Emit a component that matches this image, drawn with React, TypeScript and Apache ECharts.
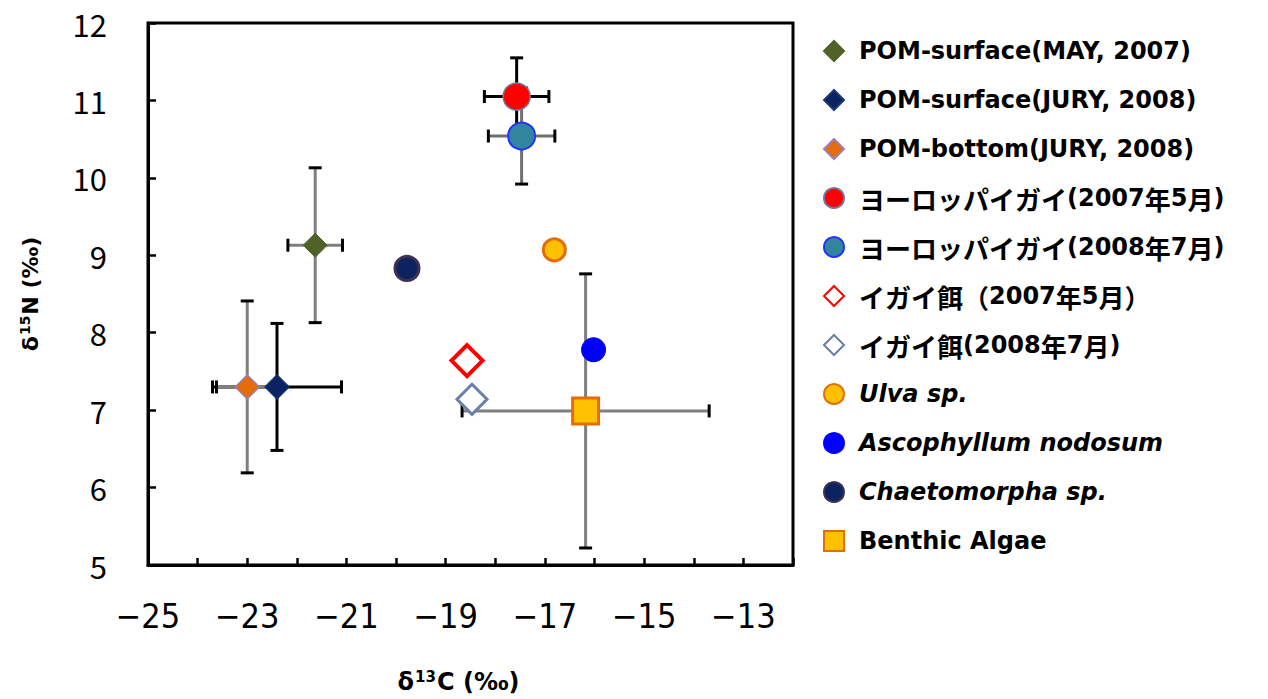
import React, { useEffect, useRef } from "react";
import * as echarts from "echarts";

// Sample groups (legend order)
const names = [
  "POM-surface(MAY, 2007)",
  "POM-surface(JURY, 2008)",
  "POM-bottom(JURY, 2008)",
  "ヨーロッパイガイ(2007年5月)",
  "ヨーロッパイガイ(2008年7月)",
  "イガイ餌（2007年5月）",
  "イガイ餌(2008年7月)",
  "Ulva sp.",
  "Ascophyllum nodosum",
  "Chaetomorpha sp.",
  "Benthic Algae",
];

// δ13C (‰) means
const d13C = [-21.63, -22.4, -23.0, -17.57, -17.47, -18.57, -18.47, -16.81, -16.02, -19.78, -16.18];
// δ15N (‰) means
const d15N = [9.13, 7.3, 7.3, 11.05, 10.54, 7.64, 7.14, 9.07, 7.78, 8.83, 6.99];
// error ranges (0 = no bar)
const errC = [0.55, 1.3, 0.62, 0.65, 0.67, 0, 0, 0, 0, 0, 2.49];
const errN = [1.0, 0.82, 1.11, 0.5, 0.62, 0, 0, 0, 0, 0, 1.77];

const xTicks = { min: -25, max: -12, step: 1 };
const yTicks = { min: 5, max: 12, step: 1 };

const italicNames = ["Ulva sp.", "Ascophyllum nodosum", "Chaetomorpha sp."];

// marker styles per group
const markerStyles = [
  { symbol: "diamond", size: 24, fill: "#4F6228", border: "#4F6228", bw: 1 },
  { symbol: "diamond", size: 25, fill: "#0B2461", border: "#1F3A70", bw: 1 },
  { symbol: "diamond", size: 24, fill: "#E46C0A", border: "#9E7FB0", bw: 1.5 },
  { symbol: "circle", size: 27, fill: "#FF0000", border: "#6E7A99", bw: 1.5 },
  { symbol: "circle", size: 27, fill: "#31859C", border: "#2233FF", bw: 2 },
  { symbol: "diamond", size: 31, fill: "#FFFFFF", border: "#FF0000", bw: 4 },
  { symbol: "diamond", size: 30, fill: "#FFFFFF", border: "#6A80A8", bw: 3 },
  { symbol: "circle", size: 22, fill: "#FFC000", border: "#E46C0A", bw: 3 },
  { symbol: "circle", size: 24, fill: "#0000FF", border: "#0000FF", bw: 1 },
  { symbol: "circle", size: 24, fill: "#0B2461", border: "#403152", bw: 3 },
  { symbol: "rect", size: 26, fill: "#FFC000", border: "#E46C0A", bw: 3 },
];

// error bar line colours per group
const barColors = ["#7F7F7F", "#000000", "#7F7F7F", "#000000", "#6F6F6F", "", "", "", "", "", "#7F7F7F"];

const titleFont = "DejaVu Sans, Noto Sans CJK JP, sans-serif";
const titleRich = (size: number) => ({
  b: { fontSize: size, fontWeight: "bold", fontFamily: titleFont, color: "#000" },
  s: {
    fontSize: Math.round(size * 0.62),
    fontWeight: "bold",
    fontFamily: titleFont,
    color: "#000",
    verticalAlign: "top",
    padding: [0, 1, Math.round(size * 0.45), 1],
  },
});

// wraps CJK runs so they can be drawn a little larger than the Latin text
const legendLabel = (n: string) => {
  if (italicNames.includes(n)) return `{i|${n}}`;
  return n
    .split(/([\u3000-\u9fff\uff00-\uffef]+)/)
    .filter((s) => s.length > 0)
    .map((s) => (/[\u3000-\u9fff\uff00-\uffef]/.test(s) ? `{k|${s}}` : `{t|${s}}`))
    .join("");
};

export default function App() {
  const ref = useRef<HTMLDivElement>(null);

  useEffect(() => {
    if (!ref.current) return;
    const chart = echarts.init(ref.current, undefined, { renderer: "svg" });

    const errData = names
      .map((_, i) => [d13C[i], d15N[i], errC[i], errN[i], i])
      .filter((d) => d[2] > 0 || d[3] > 0);

    const scatterSeries = names.map((name, i) => {
      const st = markerStyles[i];
      return {
        type: "scatter",
        name,
        z: 3,
        symbol: st.symbol,
        symbolSize: st.size,
        itemStyle: { color: st.fill, borderColor: st.border, borderWidth: st.bw, opacity: 1 },
        data: [[d13C[i], d15N[i]]],
      };
    });

    const cap = 6.5;
    const legendFont = "DejaVu Sans, Noto Sans CJK JP, sans-serif";
    const option: any = {
      animation: false,
      backgroundColor: "#FFFFFF",
      grid: {
        left: 148,
        top: 23,
        width: 645,
        height: 542,
        show: true,
        borderColor: "#000",
        borderWidth: 3,
        backgroundColor: "transparent",
      },
      xAxis: {
        type: "value",
        min: xTicks.min,
        max: xTicks.max,
        interval: xTicks.step,
        splitLine: { show: false },
        axisLine: { show: true, onZero: false, lineStyle: { color: "#000", width: 3 } },
        axisTick: { show: true, inside: true, length: 7, lineStyle: { color: "#000", width: 2.5 } },
        axisLabel: {
          margin: 34,
          fontSize: 34,
          fontFamily: "Liberation Sans Narrow, DejaVu Sans Condensed, sans-serif",
          color: "#000",
          formatter: (v: number) => (Math.round(v) % 2 !== 0 ? String(v).replace("-", "\u2212") : ""),
        },
        name: "{b|δ}{s|13}{b|C (‰)}",
        nameLocation: "middle",
        nameGap: 104,
        nameTextStyle: { rich: titleRich(24), padding: [0, 24, 0, 0] },
      },
      yAxis: {
        type: "value",
        min: yTicks.min,
        max: yTicks.max,
        interval: yTicks.step,
        splitLine: { show: false },
        axisLine: { show: true, onZero: false, lineStyle: { color: "#000", width: 3 } },
        axisTick: { show: true, inside: true, length: 8, lineStyle: { color: "#000", width: 2.5 } },
        axisLabel: {
          margin: 41,
          fontSize: 31,
          fontFamily: "Noto Sans CJK JP, sans-serif",
          color: "#000",
        },
        name: "{b|δ}{s|15}{b|N (‰)}",
        nameLocation: "middle",
        nameGap: 106,
        nameRotate: 90,
        nameTextStyle: { rich: titleRich(22) },
      },
      legend: {
        orient: "vertical",
        left: 818,
        top: 33,
        itemWidth: 20,
        itemHeight: 20,
        itemGap: 23,
        data: names,
        textStyle: {
          fontSize: 24,
          fontWeight: "bold",
          fontFamily: legendFont,
          color: "#000",
          lineHeight: 26,
          padding: [0, 0, 0, 10],
          rich: {
            t: { fontSize: 24, fontWeight: "bold", fontFamily: legendFont, color: "#000", lineHeight: 26 },
            k: { fontSize: 26, fontWeight: "bold", fontFamily: "Noto Sans CJK JP, sans-serif", color: "#000", lineHeight: 26 },
            i: {
              fontSize: 24,
              fontWeight: "bold",
              fontStyle: "italic",
              fontFamily: legendFont,
              color: "#000",
              lineHeight: 26,
            },
          },
        },
        formatter: legendLabel,
      },
      series: [
        {
          type: "custom",
          name: "error bars",
          z: 2,
          silent: true,
          data: errData,
          renderItem: (params: any, api: any) => {
            const x = api.value(0);
            const y = api.value(1);
            const ex = api.value(2);
            const ey = api.value(3);
            const idx = api.value(4);
            const col = barColors[idx];
            const children: any[] = [];
            const lw = 3;
            if (ex > 0) {
              const l = api.coord([x - ex, y]);
              const r = api.coord([x + ex, y]);
              children.push({ type: "line", shape: { x1: l[0], y1: l[1], x2: r[0], y2: r[1] }, style: { stroke: col, lineWidth: lw } });
              children.push({ type: "line", shape: { x1: l[0], y1: l[1] - cap, x2: l[0], y2: l[1] + cap }, style: { stroke: "#000", lineWidth: 3 } });
              children.push({ type: "line", shape: { x1: r[0], y1: r[1] - cap, x2: r[0], y2: r[1] + cap }, style: { stroke: "#000", lineWidth: 3 } });
            }
            if (ey > 0) {
              const t = api.coord([x, y + ey]);
              const b = api.coord([x, y - ey]);
              children.push({ type: "line", shape: { x1: t[0], y1: t[1], x2: b[0], y2: b[1] }, style: { stroke: col, lineWidth: lw } });
              children.push({ type: "line", shape: { x1: t[0] - cap, y1: t[1], x2: t[0] + cap, y2: t[1] }, style: { stroke: "#000", lineWidth: 3 } });
              children.push({ type: "line", shape: { x1: b[0] - cap, y1: b[1], x2: b[0] + cap, y2: b[1] }, style: { stroke: "#000", lineWidth: 3 } });
            }
            return { type: "group", children };
          },
        },
        ...scatterSeries,
      ],
    };

    chart.setOption(option);
    return () => chart.dispose();
  }, []);

  return (
    <div
      ref={ref}
      style={{ position: "fixed", left: 0, top: 0, width: 1268, height: 699, background: "#fff" }}
    />
  );
}
